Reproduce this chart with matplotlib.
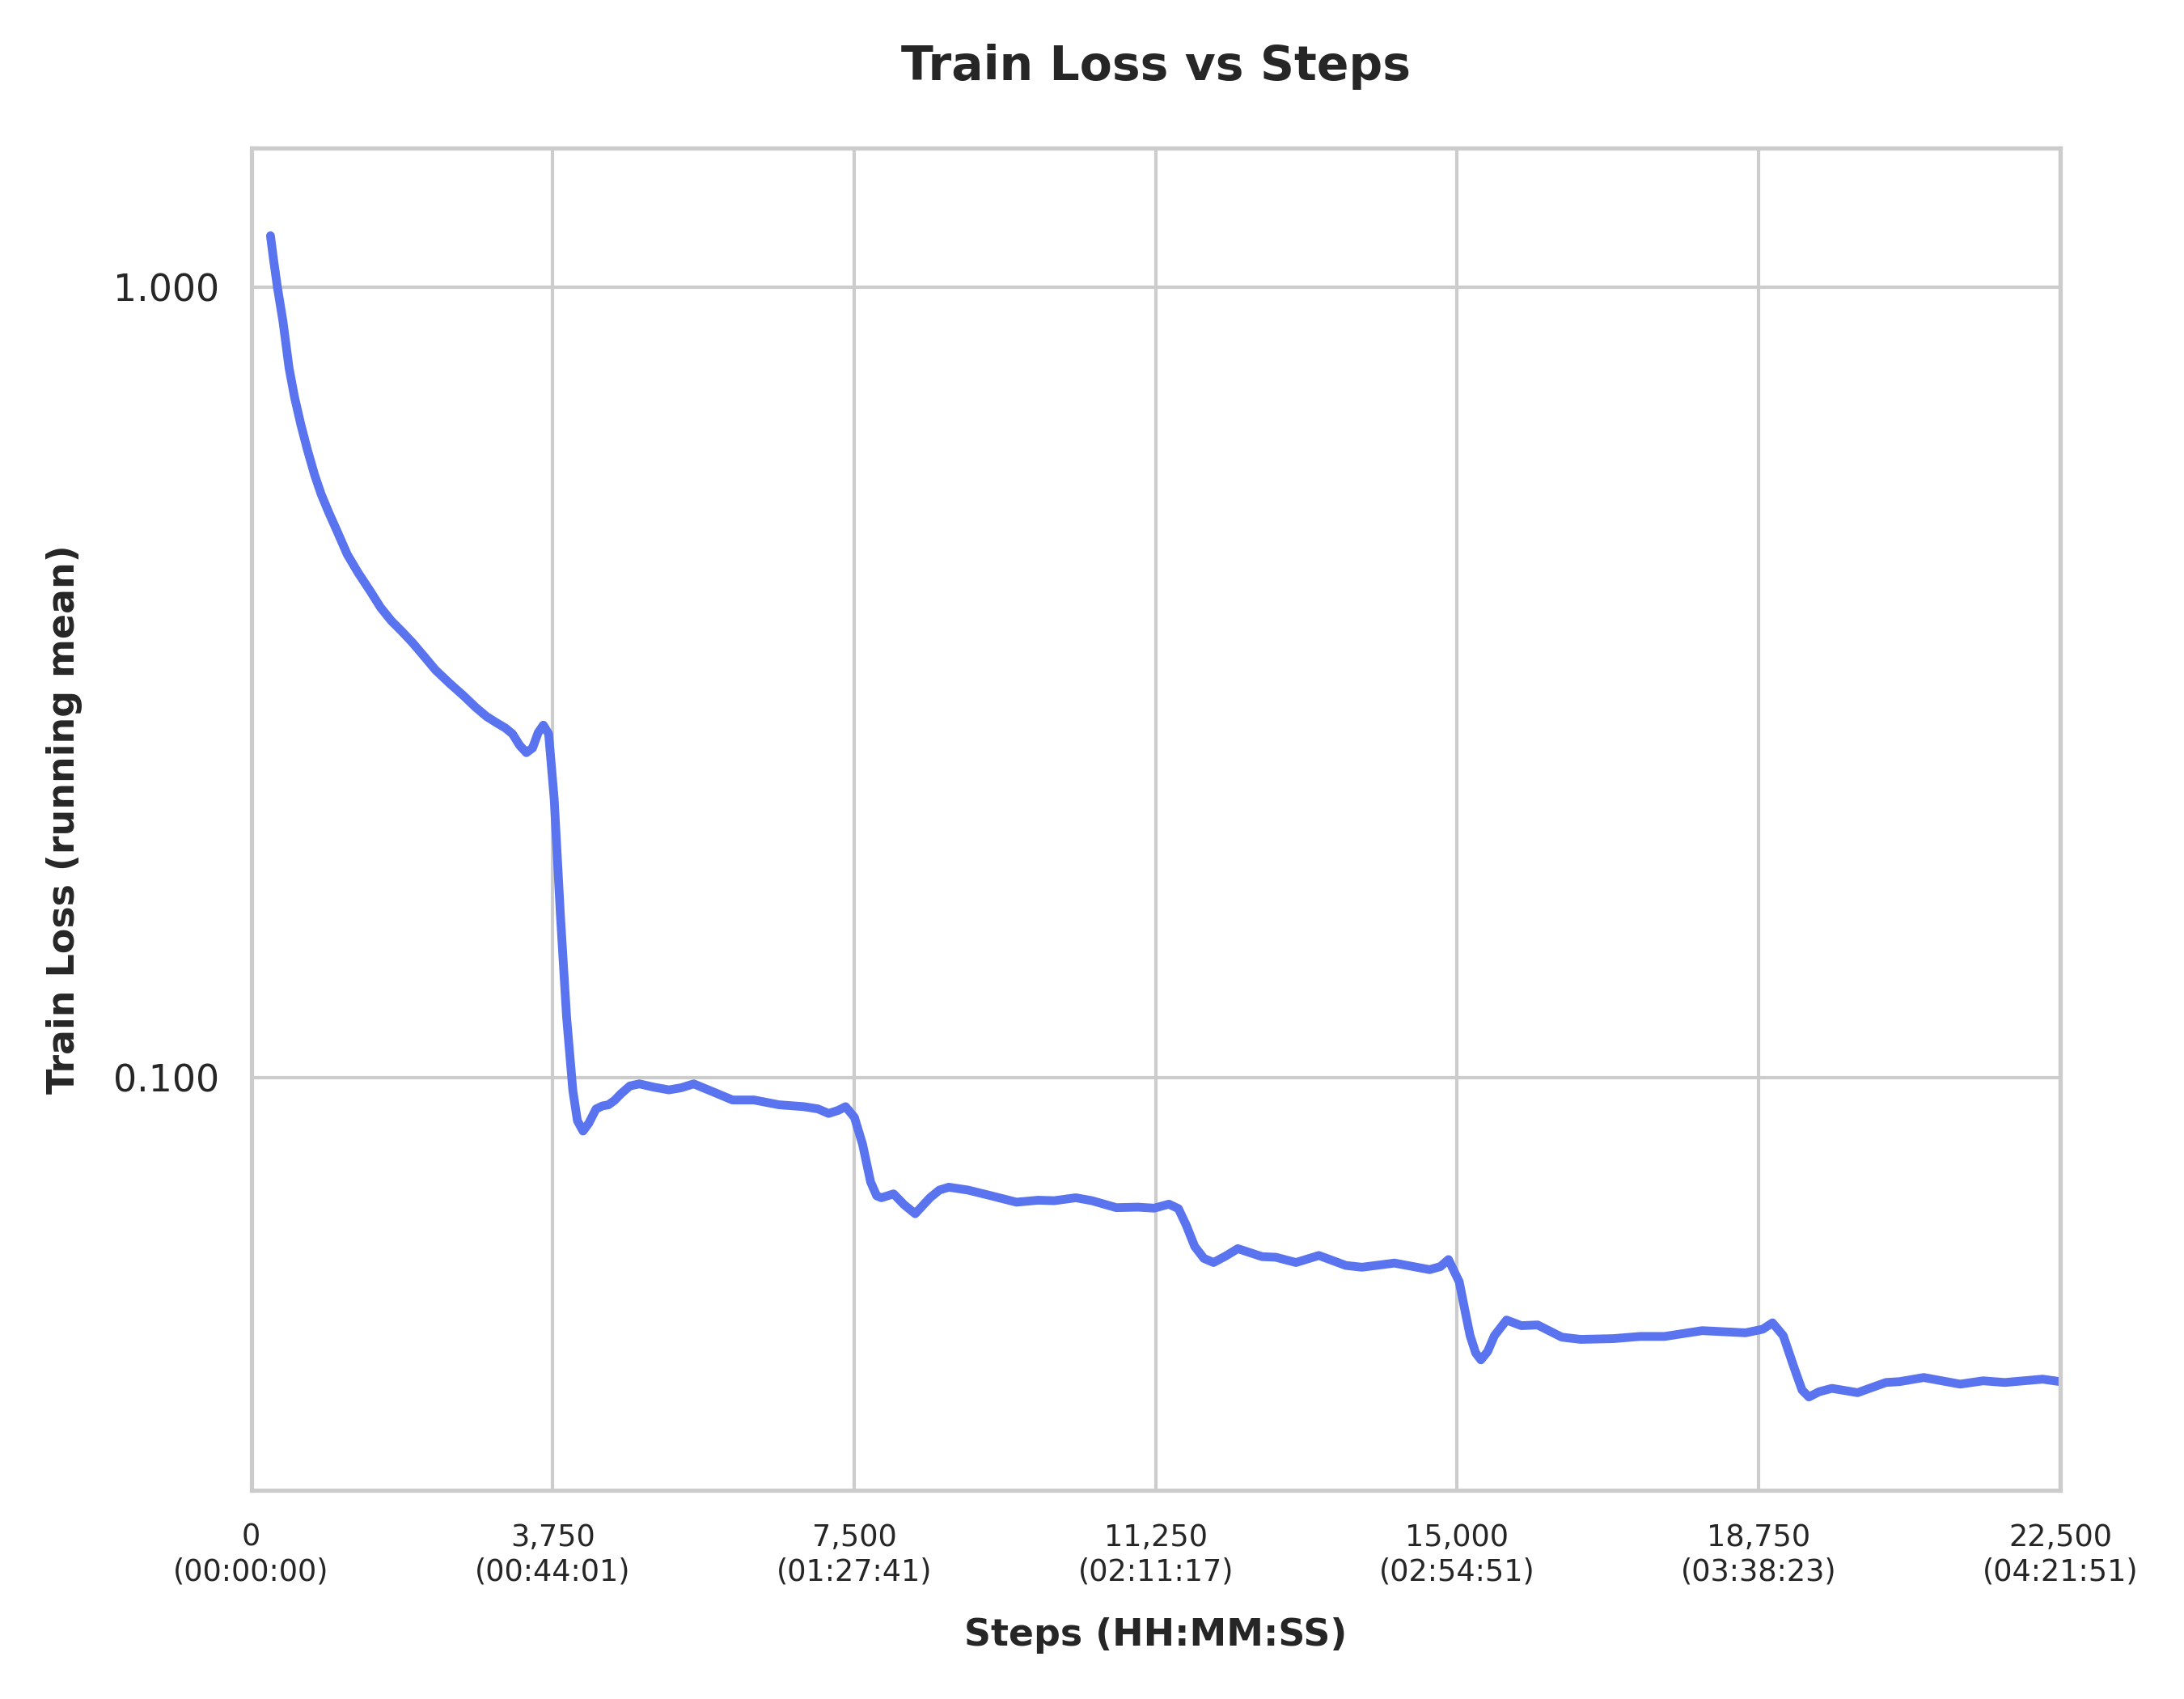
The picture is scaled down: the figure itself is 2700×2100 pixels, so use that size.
import matplotlib
matplotlib.use("Agg")
import matplotlib.pyplot as plt
import seaborn as sns
from matplotlib.ticker import FixedLocator, FuncFormatter, NullFormatter

# running-mean train loss
steps = [240, 280, 326, 396, 472, 540, 616, 700, 790, 870, 963, 1080, 1194, 1330,
         1483, 1610, 1744, 1870, 2004, 2150, 2293, 2470, 2641, 2790, 2930, 3050,
         3161, 3250, 3340, 3423, 3500, 3570, 3634, 3700, 3769, 3847, 3923, 4001,
         4058, 4128, 4200, 4290, 4370, 4444, 4520, 4599, 4710, 4829, 5000, 5196,
         5350, 5504, 5750, 5987, 6256, 6565, 6874, 7050, 7182, 7300, 7393, 7503,
         7604, 7705, 7780, 7839, 7990, 8120, 8259, 8443, 8560, 8678, 8914, 9182,
         9518, 9787, 9988, 10257, 10458, 10761, 11030, 11231, 11415, 11533, 11630,
         11735, 11850, 11970, 12120, 12272, 12574, 12743, 12995, 13280, 13615,
         13817, 14220, 14657, 14790, 14892, 15026, 15100, 15161, 15230, 15295,
         15380, 15463, 15614, 15798, 16000, 16302, 16537, 16940, 17276, 17579,
         18048, 18586, 18800, 18922, 19056, 19191, 19290, 19375, 19500, 19661,
         19980, 20333, 20501, 20803, 21256, 21542, 21811, 22281, 22500]
loss = [1.161, 1.08, 1.0, 0.904, 0.789, 0.725, 0.671, 0.622, 0.578, 0.547, 0.519,
        0.488, 0.459, 0.435, 0.412, 0.393, 0.378, 0.367, 0.355, 0.341, 0.3276,
        0.315, 0.304, 0.294, 0.286, 0.281, 0.2767, 0.272, 0.263, 0.2575, 0.261,
        0.273, 0.279, 0.272, 0.225, 0.160, 0.1193, 0.0962, 0.0881, 0.0855,
        0.0875, 0.0912, 0.0920, 0.0923, 0.0935, 0.0953, 0.0975, 0.0981, 0.0972,
        0.0964, 0.0970, 0.0981, 0.0958, 0.0936, 0.0936, 0.0923, 0.0918, 0.0912,
        0.0900, 0.0908, 0.0918, 0.0890, 0.0823, 0.0737, 0.0708, 0.0704, 0.0712,
        0.0690, 0.0672, 0.0704, 0.0720, 0.0726, 0.0720, 0.0709, 0.0695, 0.0699,
        0.0698, 0.0704, 0.0698, 0.0684, 0.0685, 0.0683, 0.0691, 0.0682, 0.0650,
        0.0611, 0.0590, 0.0583, 0.0594, 0.0607, 0.0593, 0.0592, 0.0583, 0.0595,
        0.0578, 0.0575, 0.0582, 0.0571, 0.0576, 0.0588, 0.0551, 0.0505, 0.0471,
        0.0448, 0.0439, 0.0450, 0.0471, 0.0493, 0.0485, 0.0486, 0.0469, 0.0466,
        0.0467, 0.0470, 0.0470, 0.0478, 0.0475, 0.0480, 0.0489, 0.0471, 0.0429,
        0.0402, 0.0394, 0.0400, 0.0404, 0.0399, 0.0411, 0.0412, 0.0417, 0.0409,
        0.0413, 0.0411, 0.0415, 0.0412]

tick_steps = [0, 3750, 7500, 11250, 15000, 18750, 22500]
tick_times = ["00:00:00", "00:44:01", "01:27:41", "02:11:17",
              "02:54:51", "03:38:23", "04:21:51"]

sns.set_theme(style="whitegrid")
plt.rcParams["font.family"] = ["DejaVu Sans"]

fig, ax = plt.subplots(figsize=(9, 7), dpi=300)
ax.plot(steps, loss, color="#5a73ee", lw=2.6,
        solid_capstyle="round", solid_joinstyle="round")

ax.set_yscale("log")
ax.set_xlim(0, 22500)
ax.set_ylim(0.0300, 1.50)
ax.yaxis.set_major_locator(FixedLocator([0.1, 1.0]))
ax.yaxis.set_major_formatter(FuncFormatter(lambda v, p: f"{v:.3f}"))
ax.yaxis.set_minor_formatter(NullFormatter())
ax.tick_params(axis="y", labelsize=11, colors="#262626")

ax.set_xticks(tick_steps)
ax.set_xticklabels([f"{s:,}\n({t})" for s, t in zip(tick_steps, tick_times)],
                   fontsize=8.8, color="#262626")

for sp in ax.spines.values():
    sp.set_color("#cccccc")
    sp.set_linewidth(1.25)
ax.grid(True, color="#cccccc", lw=1.0)

ax.set_title("Train Loss vs Steps", fontsize=14, fontweight="bold", pad=20)
ax.set_xlabel("Steps (HH:MM:SS)", fontsize=11, fontweight="bold", labelpad=9)
ax.set_ylabel("Train Loss (running mean)", fontsize=11, fontweight="bold", labelpad=9)

fig.subplots_adjust(left=0.115, right=0.9433, top=0.913, bottom=0.1227)
fig.savefig("out.png", dpi=300)
